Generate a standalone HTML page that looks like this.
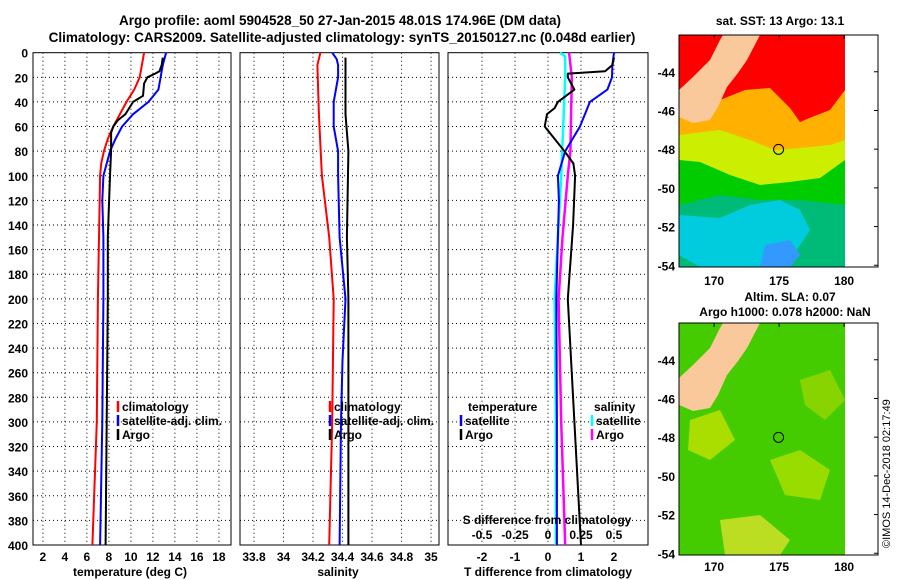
<!DOCTYPE html>
<html><head><meta charset="utf-8"><style>
body{margin:0;background:#fff;}
svg{display:block;font-family:"Liberation Sans",sans-serif;font-weight:bold;}
</style></head><body>
<svg id="fig" width="900" height="580" viewBox="0 0 900 580">
<text x="340" y="25" font-size="13.5" text-anchor="middle">Argo profile: aoml 5904528_50 27-Jan-2015 48.01S 174.96E (DM data)</text>
<text x="342" y="42" font-size="13.5" text-anchor="middle">Climatology: CARS2009. Satellite-adjusted climatology: synTS_20150127.nc (0.048d earlier)</text>
<g id="maps"></g>
<text transform="translate(890,548) rotate(-90)" font-size="11" font-weight="normal">©IMOS 14-Dec-2018 02:17:49</text>
</svg>
<script>
// ---- data ----
const depthTicks=[0,20,40,60,80,100,120,140,160,180,200,220,240,260,280,300,320,340,360,380,400];
const tTicks=[2,4,6,8,10,12,14,16,18];
const sTicks=[33.8,34,34.2,34.4,34.6,34.8,35];
const sTickLabels=["33.8","34","34.2","34.4","34.6","34.8","35"];
const dTicks=[-2,-1,0,1,2];
const sdTicks=[-0.5,-0.25,0,0.25,0.5];
const sdTickLabels=["-0.5","-0.25","0","0.25","0.5"];

const tClimDepth=[0,10,20,30,40,50,60,70,80,90,100,150,200,300,400];
const tClim=[11.2,11.0,10.8,10.3,9.6,9.0,8.4,7.9,7.55,7.3,7.2,7.1,7.0,6.9,6.5];
const tSatDepth=[0,10,20,30,40,50,60,70,80,100,120,150,200,300,400];
const tSat=[13.2,12.9,12.7,12.5,11.6,10.2,9.2,8.6,8.1,7.5,7.4,7.5,7.5,7.4,7.2];
const tArgoDepth=[4,10,15,17,20,25,35,40,50,55,60,65,80,100,150,200,300,400];
const tArgo=[12.9,12.8,12.6,12.2,11.5,11.2,11.1,10.2,9.5,8.8,8.4,8.2,8.2,8.1,7.9,7.9,7.8,7.7];

const sClimDepth=[0,10,50,100,150,200,300,400];
const sClim=[34.25,34.23,34.24,34.26,34.31,34.34,34.33,34.31];
const sSatDepth=[0,5,10,20,40,60,80,100,150,200,250,300,400];
const sSat=[34.33,34.36,34.37,34.37,34.34,34.34,34.37,34.37,34.38,34.42,34.40,34.39,34.38];
const sArgoDepth=[4,50,80,150,200,300,400];
const sArgo=[34.42,34.42,34.44,34.43,34.44,34.44,34.44];

const dTSatDepth=[0,10,20,30,40,60,80,100,120,150,200,300,400];
const dTSat=[2.0,1.95,1.94,1.8,1.27,0.97,0.52,0.3,0.33,0.3,0.25,0.27,0.27];
const dTArgoDepth=[4,10,15,17,20,30,40,45,50,60,70,80,90,100,140,200,300,400];
const dTArgo=[2.0,1.95,1.73,0.6,0.6,0.8,0.3,0.2,-0.03,-0.1,0.2,0.5,0.77,0.82,0.76,0.6,0.8,1.0];
const dSSatDepth=[0,3,20,100,200,300,400];
const dSSat=[0.09,0.13,0.13,0.1,0.05,0.06,0.06];
const dSArgoDepth=[0,20,80,100,150,200,300,400];
const dSArgo=[0.16,0.18,0.17,0.15,0.11,0.08,0.1,0.13];

const NS="http://www.w3.org/2000/svg";
const svg=document.getElementById('fig');
function mk(tag,attrs,parent){const e=document.createElementNS(NS,tag);for(const k in attrs)e.setAttribute(k,attrs[k]);(parent||svg).appendChild(e);return e;}
const Y0=52.7,Y1=545;
const yD=d=>Y0+(d/400)*(Y1-Y0);

function panel(name,x0,x1,xmin,xmax){
  const g=mk('g',{});
  
  
  const xs=v=>x0+(v-xmin)/(xmax-xmin)*(x1-x0);
  return {g,xs,x0,x1};
}
function grid(p,ticks,labels,showDepth){
  ticks.forEach((t,i)=>{
    const x=p.xs(t);
    const l=mk('line',{x1:x,x2:x,y1:Y0,y2:Y1,stroke:'#000','stroke-width':1,'stroke-dasharray':'1,3'},p.g);
    
    
    if(labels){const tx=mk('text',{x:x,y:561,'font-size':12,'text-anchor':'middle'},p.g);tx.textContent=labels[i];
      
      }
  });
  depthTicks.forEach(d=>{
    const y=yD(d);
    if(d>0&&d<400){const l=mk('line',{x1:p.x0,x2:p.x1,y1:y,y2:y,stroke:'#000','stroke-width':1,'stroke-dasharray':'1,3'},p.g);
      
      }
    if(showDepth){const tx=mk('text',{x:28,y:y+5,'font-size':12,'text-anchor':'end'},p.g);tx.textContent=d;
      
      }
  });
  const r=mk('rect',{x:p.x0,y:Y0,width:p.x1-p.x0,height:Y1-Y0,fill:'none',stroke:'#000','stroke-width':1},p.g);
  
  
}
function line(p,xs,ds,vals,color,w,name){
  const pts=ds.map((d,i)=>xs(vals[i]).toFixed(1)+','+yD(d).toFixed(1)).join(' ');
  const pl=mk('polyline',{points:pts,fill:'none',stroke:color,'stroke-width':w,'stroke-linejoin':'round'},p.g);
  
  
}
function txt(p,x,y,s,name,size,anchor){const t=mk('text',{x:x,y:y,'font-size':size||12,'text-anchor':anchor||'start'},p.g);t.textContent=s;
  
  return t;}
function key(p,x,y,color,label,name){
  const l=mk('line',{x1:x,x2:x,y1:y-10,y2:y+1,stroke:color,'stroke-width':2.5},p.g);
  
  
  txt(p,x+4,y,label,name);
}

// Panel 1 temperature
const p1=panel('temperature-panel',33,231,1.1,19.1);
grid(p1,tTicks,tTicks.map(String),true);
line(p1,p1.xs,tClimDepth,tClim,'#f00',2,'climatology-temperature-line');
line(p1,p1.xs,tSatDepth,tSat,'#00f',2,'satellite-temperature-line');
line(p1,p1.xs,tArgoDepth,tArgo,'#000',2,'argo-temperature-line');
key(p1,118,411,'#f00','climatology','legend-climatology');
key(p1,118,425,'#00f','satellite-adj. clim.','legend-satellite');
key(p1,118,439,'#000','Argo','legend-argo');
txt(p1,130,576,'temperature (deg C)','x-axis-title-temperature',12,'middle');

// Panel 2 salinity
const p2=panel('salinity-panel',240,439,33.705,35.054);
grid(p2,sTicks,sTickLabels,false);
line(p2,p2.xs,sClimDepth,sClim,'#f00',2,'climatology-salinity-line');
line(p2,p2.xs,sSatDepth,sSat,'#00f',2,'satellite-salinity-line');
line(p2,p2.xs,sArgoDepth,sArgo,'#000',2,'argo-salinity-line');
key(p2,330,411,'#f00','climatology','legend-climatology-s');
key(p2,330,425,'#00f','satellite-adj. clim.','legend-satellite-s');
key(p2,330,439,'#000','Argo','legend-argo-s');
txt(p2,338,576,'salinity','x-axis-title-salinity',12,'middle');

// Panel 3 differences
const p3=panel('difference-panel',448,648,-3.03,3.03);
grid(p3,dTicks,dTicks.map(String),false);
const sx=v=>p3.xs(v*4);
line(p3,sx,dSSatDepth,dSSat,'#0ff',2.5,'satellite-salinity-diff-line');
line(p3,sx,dSArgoDepth,dSArgo,'#f0f',2.5,'argo-salinity-diff-line');
line(p3,p3.xs,dTSatDepth,dTSat,'#00f',2,'satellite-temperature-diff-line');
line(p3,p3.xs,dTArgoDepth,dTArgo,'#000',2,'argo-temperature-diff-line');
txt(p3,468,411,'temperature','legend-title-temperature');
txt(p3,594,411,'salinity','legend-title-salinity');
key(p3,461,425,'#00f','satellite','legend-t-satellite');
key(p3,461,439,'#000','Argo','legend-t-argo');
key(p3,592,425,'#0ff','satellite','legend-s-satellite');
key(p3,592,439,'#f0f','Argo','legend-s-argo');
txt(p3,547,524,'S difference from climatology','secondary-axis-title',12,'middle');
sdTicks.forEach((v,i)=>{const t=txt(p3,sx(v),539,sdTickLabels[i],'secondary-tick-label',12,'middle');});
txt(p3,548,576,'T difference from climatology','x-axis-title-difference',12,'middle');

// ---- maps ----
const mg=document.getElementById('maps');
function mapAxes(top,name){
  const x0=679,x1=878,h=232;
  const g=mk('g',{},mg);
  
  
  const lx=lon=>679+(lon-167.3)*13;
  const ly=lat=>top+(lat-42.1)*19.35;
  return {g,lx,ly,x0,x1,top,h};
}
function finishMap(m,labelY){
  const r=mk('rect',{x:m.x0,y:m.top,width:m.x1-m.x0,height:m.h,fill:'none',stroke:'#000'},m.g);
  
  
  [44,46,48,50,52,54].forEach(l=>{const y=m.ly(l);
    mk('line',{x1:m.x1,x2:m.x1-4,y1:y,y2:y,stroke:'#000'},m.g);
    const t=mk('text',{x:675,y:y+5,'font-size':12,'text-anchor':'end'},m.g);t.textContent='-'+l;
    
    });
  [170,175,180].forEach(l=>{const x=m.lx(l);
    mk('line',{x1:x,x2:x,y1:m.top,y2:m.top+4,stroke:'#000'},m.g);
    const t=mk('text',{x:x,y:labelY,'font-size':12,'text-anchor':'middle'},m.g);t.textContent=l;
    
    });
  const c=mk('circle',{cx:m.lx(174.96),cy:m.ly(48.01),r:5,fill:'none',stroke:'#000'},m.g);
  
  
}
function poly(g,pts,fill,name){const p=mk('polygon',{points:pts,fill:fill},g);
  
  }
const landPts=(top)=>{const o=top-35;return [[723,35],[760,35],[747,60],[738,73],[727,87],[718,107],[710,120],[693,123],[679,117],[679,90],[693,77],[710,60],[720,40]].map(p=>p[0]+','+(p[1]+o)).join(' ');};

// SST map
const m1=mapAxes(35,'sst-map');
const t1=mk('text',{x:780,y:25,'font-size':12,'text-anchor':'middle'},mg);t1.textContent='sat. SST: 13 Argo: 13.1';


poly(m1.g,'679,35 845,35 845,267 679,267','#ff0000','sst-warm');
poly(m1.g,'679,110 720,100 745,90 770,88 790,108 800,122 812,117 830,110 845,90 845,267 679,267','#ffb000','sst-orange');
poly(m1.g,'679,135 720,130 750,140 775,150 800,148 830,145 845,140 845,267 679,267','#ccee00','sst-yellow');
poly(m1.g,'679,160 700,162 730,175 760,185 790,182 820,178 845,160 845,267 679,267','#00cc00','sst-green');
poly(m1.g,'679,205 720,195 760,200 800,200 845,205 845,267 679,267','#00bb77','sst-teal');
poly(m1.g,'679,215 720,218 750,205 780,200 800,210 810,230 800,245 790,260 770,267 700,267 679,255','#00ccdd','sst-cyan');
poly(m1.g,'765,245 790,240 800,255 790,267 760,267','#3399ff','sst-blue');
poly(m1.g,landPts(35),'#f9c89b','sst-land');
finishMap(m1,285);

// SLA map
const m2=mapAxes(323,'sla-map');
const t2=mk('text',{x:790,y:301,'font-size':12,'text-anchor':'middle'},mg);t2.textContent='Altim. SLA: 0.07';


const t3=mk('text',{x:785,y:316,'font-size':12,'text-anchor':'middle'},mg);t3.textContent='Argo h1000: 0.078 h2000: NaN';


poly(m2.g,'679,323 845,323 845,555 679,555','#44cc00','sla-base');
poly(m2.g,'690,420 720,410 735,440 710,460 688,450','#aadd00','sla-patch');
poly(m2.g,'770,460 800,450 830,470 820,500 785,495','#99dd00','sla-patch');
poly(m2.g,'720,520 760,515 790,540 780,555 725,555','#bbdd22','sla-patch');
poly(m2.g,'800,380 830,370 845,400 825,420 805,405','#88d400','sla-patch');
poly(m2.g,landPts(323),'#f9c89b','sla-land');
finishMap(m2,571);
</script>
</body></html>
